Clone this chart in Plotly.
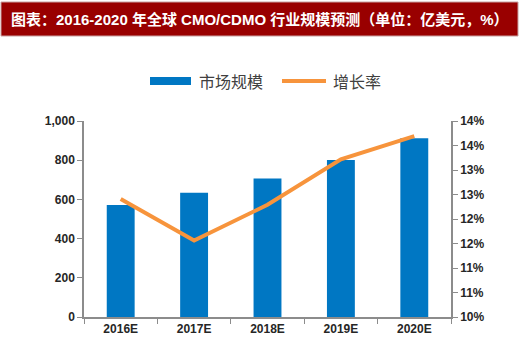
import plotly.graph_objects as go

categories = ["2016E", "2017E", "2018E", "2019E", "2020E"]
market_size = [571, 634, 707, 801, 912]
growth_rate = [12.41, 11.56, 12.29, 13.22, 13.69]
right_tickvals = [10, 10.5, 11, 11.5, 12, 12.5, 13, 13.5, 14]
right_ticktext = ["10%", "11%", "11%", "12%", "12%", "13%", "13%", "14%", "14%"]
title_text = "图表：2016-2020 年全球 CMO/CDMO 行业规模预测（单位：亿美元，%）"

W, H = 520, 352
L, R, T, B = 84, 69, 121, 35
pw, ph = W - L - R, H - T - B

def px(X):
    return (X - L) / pw

def py(Y):
    return (H - B - Y) / ph

tf = dict(family="Liberation Sans, Arial", size=12, color="#262626", weight="bold")

fig = go.Figure()
fig.add_trace(go.Bar(x=categories, y=market_size, name="市场规模",
                     marker=dict(color="#0077C3", line=dict(width=0)), yaxis="y"))
fig.add_trace(go.Scatter(x=categories, y=growth_rate, name="增长率", mode="lines",
                         line=dict(color="#F7943C", width=4), yaxis="y2"))

fig.update_layout(
    width=W, height=H,
    margin=dict(l=L, r=R, t=T, b=B),
    paper_bgcolor="white", plot_bgcolor="white",
    bargap=0.62,
    showlegend=False,
    xaxis=dict(showline=True, linecolor="#8C8C8C", linewidth=1.5, ticks="outside",
               tickson="boundaries", ticklen=5, tickcolor="#8C8C8C",
               tickfont=tf, showgrid=False),
    yaxis=dict(range=[0, 1000], dtick=200, tickformat=",", showline=True,
               linecolor="#8C8C8C", linewidth=1.5, ticks="outside", ticklen=5,
               tickcolor="#8C8C8C", showgrid=False, zeroline=False, tickfont=tf),
    yaxis2=dict(range=[10, 14], overlaying="y", side="right", tickvals=right_tickvals,
                ticktext=right_ticktext, showline=True, linecolor="#8C8C8C", linewidth=1.5,
                ticks="outside", ticklen=5, tickcolor="#8C8C8C", showgrid=False, zeroline=False,
                tickfont=tf),
)

# Title banner
fig.add_shape(type="rect", xref="paper", yref="paper",
              x0=px(1), x1=px(518), y0=py(36), y1=py(2),
              fillcolor="#990000", line=dict(color="#C8A0A0", width=1), layer="above")
fig.add_annotation(xref="paper", yref="paper", x=px(9), y=py(19), xanchor="left", yanchor="middle",
                   text="<b>" + title_text + "</b>", showarrow=False,
                   font=dict(family="Liberation Sans, Noto Sans CJK SC", size=15, color="white"))

# Custom legend
fig.add_shape(type="rect", xref="paper", yref="paper",
              x0=px(150), x1=px(191), y0=py(85), y1=py(77),
              fillcolor="#0077C3", line=dict(width=0))
fig.add_annotation(xref="paper", yref="paper", x=px(197), y=py(81), xanchor="left", yanchor="middle",
                   text="市场规模", showarrow=False,
                   font=dict(family="Noto Sans CJK SC", size=16, color="#404040"))
fig.add_shape(type="line", xref="paper", yref="paper",
              x0=px(282), x1=px(326), y0=py(81), y1=py(81),
              line=dict(color="#F7943C", width=4))
fig.add_annotation(xref="paper", yref="paper", x=px(331), y=py(81), xanchor="left", yanchor="middle",
                   text="增长率", showarrow=False,
                   font=dict(family="Noto Sans CJK SC", size=16, color="#404040"))

fig.write_html("out.html")
